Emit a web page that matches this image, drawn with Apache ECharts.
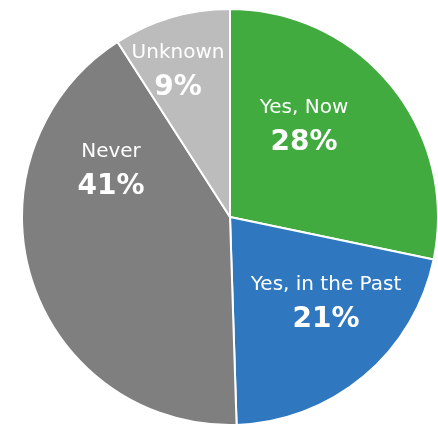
<!DOCTYPE html>
<html>
<head>
<meta charset="utf-8">
<style>
  html, body { margin: 0; padding: 0; background: #ffffff; }
  #chart { width: 438px; height: 426px; }
</style>
<script src="https://cdn.jsdelivr.net/npm/echarts@6/dist/echarts.min.js"></script>
</head>
<body>
<div id="chart"></div>
<script>
// Survey answer shares, clockwise from 12 o'clock
const categories = ['Yes, Now', 'Yes, in the Past', 'Never', 'Unknown'];
const percents = [28, 21, 41, 9];

const sliceColors = ['#41ab3f', '#2f78bf', '#7f7f7f', '#bcbcbc'];
// Hand-placed label anchors (centre of the two-line label block)
const labelAnchors = [[304, 126], [326, 303], [111, 170], [178, 71]];

const chart = echarts.init(document.getElementById('chart'), null, { renderer: 'canvas' });

chart.setOption({
  backgroundColor: '#ffffff',
  animation: false,
  series: [{
    type: 'pie',
    center: [230, 217],
    radius: [0, 208],
    startAngle: 90,
    clockwise: true,
    avoidLabelOverlap: false,
    itemStyle: { borderColor: '#ffffff', borderWidth: 2 },
    label: {
      show: true,
      position: 'inside',
      align: 'center',
      verticalAlign: 'middle',
      formatter: p => '{name|' + p.name + '}\n{val|' + percents[p.dataIndex] + '%}',
      rich: {
        name: { fontFamily: 'DejaVu Sans', fontSize: 20, color: '#ffffff', lineHeight: 34, align: 'center' },
        val: { fontFamily: 'DejaVu Sans', fontSize: 28, fontWeight: 'bold', color: '#ffffff', lineHeight: 36, align: 'center' }
      }
    },
    labelLine: { show: false },
    labelLayout: params => ({
      x: labelAnchors[params.dataIndex][0],
      y: labelAnchors[params.dataIndex][1],
      align: 'center',
      verticalAlign: 'middle'
    }),
    emphasis: { disabled: true },
    data: categories.map((name, i) => ({
      name: name,
      value: percents[i],
      itemStyle: { color: sliceColors[i] }
    }))
  }]
});
</script>
</body>
</html>
